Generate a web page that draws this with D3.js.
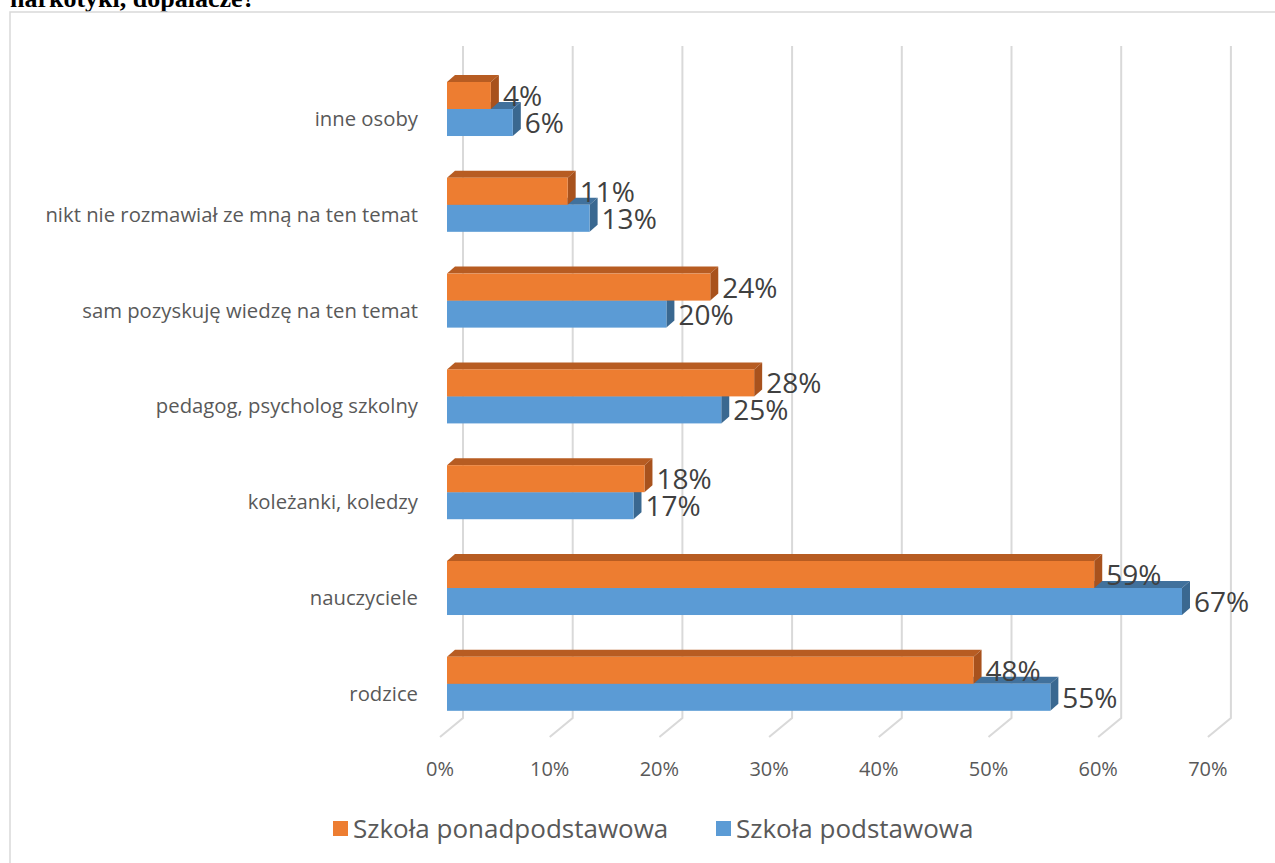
<!DOCTYPE html>
<html>
<head>
<meta charset="utf-8">
<script src="https://cdn.jsdelivr.net/npm/d3@7"></script>
<style>
  html, body { margin: 0; padding: 0; background: #fff; }
  svg { display: block; }
</style>
</head>
<body>
<svg id="chart" width="1275" height="863"></svg>
<script>
const categories = [
  "inne osoby",
  "nikt nie rozmawiał ze mną na ten temat",
  "sam pozyskuję wiedzę na ten temat",
  "pedagog, psycholog szkolny",
  "koleżanki, koledzy",
  "nauczyciele",
  "rodzice"
];
const seriesNames = ["Szkoła ponadpodstawowa", "Szkoła podstawowa"];
const ponadpodstawowa = [4, 11, 24, 28, 18, 59, 48];
const podstawowa = [6, 13, 20, 25, 17, 67, 55];
const tickValues = [0, 10, 20, 30, 40, 50, 60, 70];
const titleText = "narkotyki, dopalacze?";

const colors = {
  orange: { front: "#ED7D31", top: "#B75C22", side: "#A8521D" },
  blue:   { front: "#5B9BD5", top: "#41719C", side: "#3A6890" }
};

const svg = d3.select("#chart");
const FONT = "'Open Sans', 'Noto Sans', sans-serif";

// title (cut off at top)
svg.append("text").attr("x", 10).attr("y", 7)
  .attr("font-family", "'Liberation Serif', 'Times New Roman', serif")
  .attr("font-weight", "bold").attr("font-size", 26).attr("fill", "#000")
  .text(titleText);

// chart border
svg.append("rect").attr("x", 10).attr("y", 12).attr("width", 1300).attr("height", 900)
  .attr("fill", "none").attr("stroke", "#D9D9D9").attr("stroke-width", 1.5);

// scales
const x = d3.scaleLinear().domain([0, 70]).range([447, 447 + 70 * 10.97]);
const backDx = 16;        // back wall offset vs. bar front
const floorDx = -23, floorDy = 19;
const gridTop = 46, gridBottom = 718;
const depthX = 8, depthY = 7;

const y = d3.scaleBand().domain(categories)
  .range([61.1, 61.1 + 7 * 95.8]).paddingInner(0.436).paddingOuter(0.218);
const barH = y.bandwidth() / 2;

// gridlines (back wall + floor diagonal)
const grid = svg.append("g");
tickValues.forEach(t => {
  const bx = x(t) + backDx;
  grid.append("path")
    .attr("d", `M${bx},${gridTop} L${bx},${gridBottom} L${bx + floorDx},${gridBottom + floorDy}`)
    .attr("fill", "none").attr("stroke", "#D9D9D9").attr("stroke-width", 2);
});

// tick labels
svg.append("g").selectAll("text").data(tickValues).join("text")
  .attr("x", d => x(d) + backDx + floorDx).attr("y", 776)
  .attr("text-anchor", "middle").attr("font-family", FONT).attr("font-size", 20)
  .attr("fill", "#595959").text(d => d + "%");

// category labels
svg.append("g").selectAll("text").data(categories).join("text")
  .attr("x", 418).attr("y", d => y(d) + y.bandwidth() / 2 + 17)
  .attr("text-anchor", "end").attr("font-family", FONT).attr("font-size", 20.3)
  .attr("fill", "#595959").text(d => d);

function drawBar(g, x0, x1, yTop, h, c) {
  const w = x1 - x0;
  g.append("path") // top face
    .attr("d", `M${x0},${yTop} L${x1},${yTop} L${x1 + depthX},${yTop - depthY} L${x0 + depthX},${yTop - depthY}Z`)
    .attr("fill", c.top);
  g.append("path") // side face
    .attr("d", `M${x1},${yTop} L${x1 + depthX},${yTop - depthY} L${x1 + depthX},${yTop + h - depthY} L${x1},${yTop + h}Z`)
    .attr("fill", c.side);
  g.append("rect").attr("x", x0).attr("y", yTop).attr("width", Math.max(0, w)).attr("height", h)
    .attr("fill", c.front);
}

const bars = svg.append("g");
const data = categories.map((c, i) => ({ c, o: ponadpodstawowa[i], b: podstawowa[i] }));
// blue first (lower), then orange (upper, occludes blue's top face)
data.forEach(d => {
  drawBar(bars, x(0), x(d.b), y(d.c) + barH, barH, colors.blue);
  drawBar(bars, x(0), x(d.o), y(d.c), barH, colors.orange);
});

// value labels
const labels = svg.append("g").attr("font-family", FONT).attr("font-size", 28).attr("fill", "#404040");
data.forEach(d => {
  labels.append("text").attr("x", x(d.o) + depthX + 4).attr("y", y(d.c) + barH / 2 + 10.5)
    .text(d.o + "%");
  labels.append("text").attr("x", x(d.b) + depthX + 4).attr("y", y(d.c) + barH * 1.5 + 10.5)
    .text(d.b + "%");
});

// legend
const legend = svg.append("g").attr("font-family", FONT).attr("font-size", 26).attr("fill", "#595959");
const legendItems = [
  { name: seriesNames[0], color: colors.orange.front, x: 333 },
  { name: seriesNames[1], color: colors.blue.front, x: 716 }
];
legendItems.forEach(it => {
  legend.append("rect").attr("x", it.x).attr("y", 821).attr("width", 15).attr("height", 15).attr("fill", it.color);
  legend.append("text").attr("x", it.x + 20).attr("y", 838).text(it.name);
});
</script>
</body>
</html>
